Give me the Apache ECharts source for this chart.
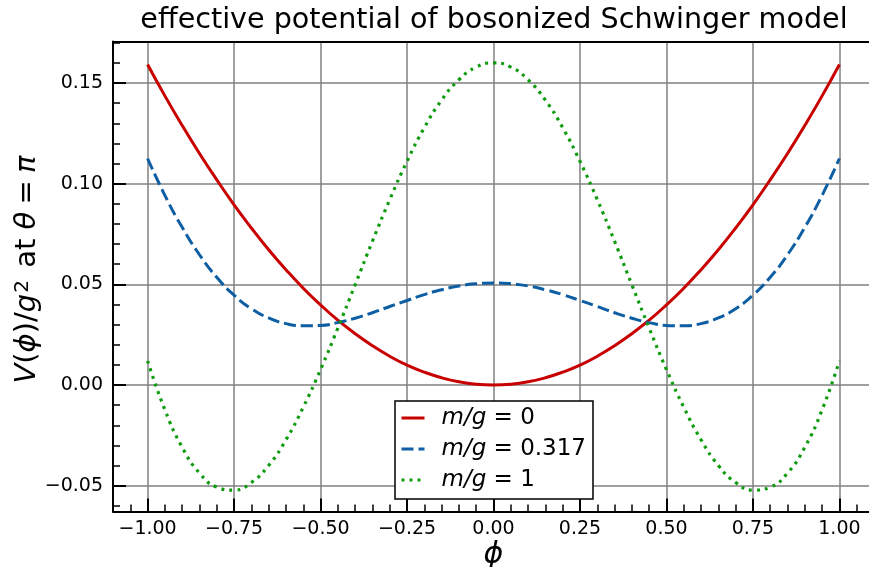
<!DOCTYPE html>
<html>
<head>
<meta charset="utf-8">
<script src="https://cdn.jsdelivr.net/npm/echarts@6/dist/echarts.min.js"></script>
<style>
html,body{margin:0;padding:0;background:#fff;}
#chart{width:869px;height:567px;}
</style>
</head>
<body>
<div id="chart"></div>
<script>
const phi = [-1.00,-0.95,-0.90,-0.85,-0.80,-0.75,-0.70,-0.65,-0.60,-0.55,-0.50,-0.45,-0.40,-0.35,-0.30,-0.25,-0.20,-0.15,-0.10,-0.05,0.00,0.05,0.10,0.15,0.20,0.25,0.30,0.35,0.40,0.45,0.50,0.55,0.60,0.65,0.70,0.75,0.80,0.85,0.90,0.95,1.00];
const vMass0 = [0.1592,0.1436,0.1289,0.1150,0.1019,0.0895,0.0780,0.0672,0.0573,0.0481,0.0398,0.0322,0.0255,0.0195,0.0143,0.0099,0.0064,0.0036,0.0016,0.0004,0.0000,0.0004,0.0016,0.0036,0.0064,0.0099,0.0143,0.0195,0.0255,0.0322,0.0398,0.0481,0.0573,0.0672,0.0780,0.0895,0.1019,0.1150,0.1289,0.1436,0.1592];
const vMass0317 = [0.1125,0.0942,0.0783,0.0647,0.0535,0.0446,0.0379,0.0333,0.0305,0.0294,0.0296,0.0310,0.0332,0.0359,0.0390,0.0420,0.0449,0.0473,0.0492,0.0503,0.0507,0.0503,0.0492,0.0473,0.0449,0.0420,0.0390,0.0359,0.0332,0.0310,0.0296,0.0294,0.0305,0.0333,0.0379,0.0446,0.0535,0.0647,0.0783,0.0942,0.1125];
const vMass1 = [0.0120,-0.0123,-0.0309,-0.0437,-0.0507,-0.0522,-0.0484,-0.0399,-0.0272,-0.0110,0.0077,0.0283,0.0498,0.0714,0.0921,0.1111,0.1278,0.1415,0.1516,0.1579,0.1600,0.1579,0.1516,0.1415,0.1278,0.1111,0.0921,0.0714,0.0498,0.0283,0.0077,-0.0110,-0.0272,-0.0399,-0.0484,-0.0522,-0.0507,-0.0437,-0.0309,-0.0123,0.0120];
const seriesNames = ['m/g = 0','m/g = 0.317','m/g = 1'];

const xTicks = [-1.00,-0.75,-0.50,-0.25,0.00,0.25,0.50,0.75,1.00];
const xTickLabels = ['\u22121.00','\u22120.75','\u22120.50','\u22120.25','0.00','0.25','0.50','0.75','1.00'];
const xMinorTicks = [-1.05,-0.95,-0.90,-0.85,-0.80,-0.70,-0.65,-0.60,-0.55,-0.45,-0.40,-0.35,-0.30,-0.20,-0.15,-0.10,-0.05,0.05,0.10,0.15,0.20,0.30,0.35,0.40,0.45,0.55,0.60,0.65,0.70,0.80,0.85,0.90,0.95,1.05];
const yTicks = [-0.05,0.00,0.05,0.10,0.15];
const yTickLabels = ['\u22120.05','0.00','0.05','0.10','0.15'];
const yMinorTicks = [-0.06,-0.04,-0.03,-0.02,-0.01,0.01,0.02,0.03,0.04,0.06,0.07,0.08,0.09,0.11,0.12,0.13,0.14,0.16,0.17];

const FONT = 'DejaVu Sans';
const xMin = -1.1, xMax = 1.1, yMin = -0.0628, yMax = 0.1706;

function lab(ticks, labels){
  return v => { for (let i=0;i<ticks.length;i++){ if (Math.abs(ticks[i]-v)<1e-9) return labels[i]; } return ''; };
}

const chart = echarts.init(document.getElementById('chart'), null, {renderer:'canvas'});
const hidden = {show:false};
chart.setOption({
  animation:false,
  backgroundColor:'#fff',
  title:{
    text:'effective potential of bosonized Schwinger model',
    left:494, top:6, textAlign:'center', padding:0,
    textStyle:{fontFamily:FONT, fontSize:28.6, fontWeight:'normal', color:'#000'}
  },
  grid:{left:113, right:-5, top:41.5, bottom:55.5, outerBoundsMode:'none', containLabel:false},
  legend:{
    orient:'vertical', left:395, top:401,
    padding:[4,7,6,5], itemGap:5, itemWidth:23, itemHeight:14,
    backgroundColor:'#fff', borderColor:'#000', borderWidth:1.5, borderRadius:0,
    data:seriesNames,
    itemStyle:{opacity:0, color:'rgba(0,0,0,0)', borderWidth:0},
    lineStyle:{width:3},
    formatter: name => '{i|m/g} = ' + name.split('= ')[1],
    textStyle:{fontFamily:FONT, fontSize:23, color:'#000', lineHeight:26, padding:[0,0,0,12],
      rich:{i:{fontFamily:FONT, fontSize:23, fontStyle:'italic', color:'#000'}}}
  },
  xAxis:[
    {type:'value', min:xMin, max:xMax, position:'bottom',
     axisLine:{show:true, onZero:false, lineStyle:{color:'#000', width:2}},
     axisTick:{show:true, inside:true, length:13, customValues:xTicks, lineStyle:{color:'#000', width:2}},
     axisLabel:{show:true, customValues:xTicks, formatter:lab(xTicks,xTickLabels), margin:8, fontFamily:FONT, fontSize:19, color:'#000'},
     splitLine:{show:true, lineStyle:{color:'#808080', width:1.5}},
     name:'\u03d5', nameLocation:'middle', nameGap:29, nameMoveOverlap:false,
     nameTextStyle:{fontFamily:FONT, fontSize:30, fontStyle:'italic', color:'#000'}
    },
    {type:'value', min:xMin, max:xMax, position:'bottom',
     axisLine:{show:false, onZero:false},
     axisTick:{show:true, inside:true, length:7, customValues:xMinorTicks, lineStyle:{color:'#000', width:1.5}},
     axisLabel:hidden, splitLine:hidden
    },
    {type:'value', min:xMin, max:xMax, position:'top',
     axisLine:{show:true, onZero:false, lineStyle:{color:'#000', width:2}},
     axisTick:hidden, axisLabel:hidden, splitLine:hidden
    }
  ],
  yAxis:[
    {type:'value', min:yMin, max:yMax, position:'left',
     axisLine:{show:true, onZero:false, lineStyle:{color:'#000', width:2}},
     axisTick:{show:true, inside:true, length:13, customValues:yTicks, lineStyle:{color:'#000', width:2}},
     axisLabel:{show:true, customValues:yTicks, formatter:lab(yTicks,yTickLabels), margin:10, fontFamily:FONT, fontSize:19, color:'#000'},
     splitLine:{show:true, lineStyle:{color:'#808080', width:1.5}},
     name:'{v|V}({i|\u03d5})/{i|g}{s|2} at {i|\u03b8}\u2005=\u2005{i|\u03c0}', nameLocation:'middle', nameRotate:90, nameGap:71, nameMoveOverlap:false,
     nameTextStyle:{fontFamily:FONT, fontSize:29, color:'#000',
       rich:{i:{fontFamily:FONT, fontSize:29, fontStyle:'italic', color:'#000'},
             v:{fontFamily:FONT, fontSize:29, fontStyle:'italic', color:'#000', padding:[0,0,0,14]},
             s:{fontFamily:FONT, fontSize:20, color:'#000', verticalAlign:'top', padding:[0,3,8,1]}}}
    },
    {type:'value', min:yMin, max:yMax, position:'left',
     axisLine:{show:false, onZero:false},
     axisTick:{show:true, inside:true, length:7, customValues:yMinorTicks, lineStyle:{color:'#000', width:1.5}},
     axisLabel:hidden, splitLine:hidden
    }
  ],
  series:[
    {name:seriesNames[0], type:'line', xAxisIndex:0, yAxisIndex:0, smooth:true, showSymbol:false, symbol:'none',
     data:phi.map((x,i)=>[x,vMass0[i]]), color:'#c80000',
     lineStyle:{color:'#c80000', width:3, type:'solid'}},
    {name:seriesNames[1], type:'line', xAxisIndex:0, yAxisIndex:0, smooth:true, showSymbol:false, symbol:'none',
     data:phi.map((x,i)=>[x,vMass0317[i]]), color:'#0d5ea3',
     lineStyle:{color:'#0d5ea3', width:3, type:[12,5], cap:'butt'}},
    {name:seriesNames[2], type:'line', xAxisIndex:0, yAxisIndex:0, smooth:true, showSymbol:false, symbol:'none',
     data:phi.map((x,i)=>[x,vMass1[i]]), color:'#0e9c0e',
     lineStyle:{color:'#0e9c0e', width:3.2, type:[3,5], cap:'butt'}}
  ]
});
</script>
</body>
</html>
